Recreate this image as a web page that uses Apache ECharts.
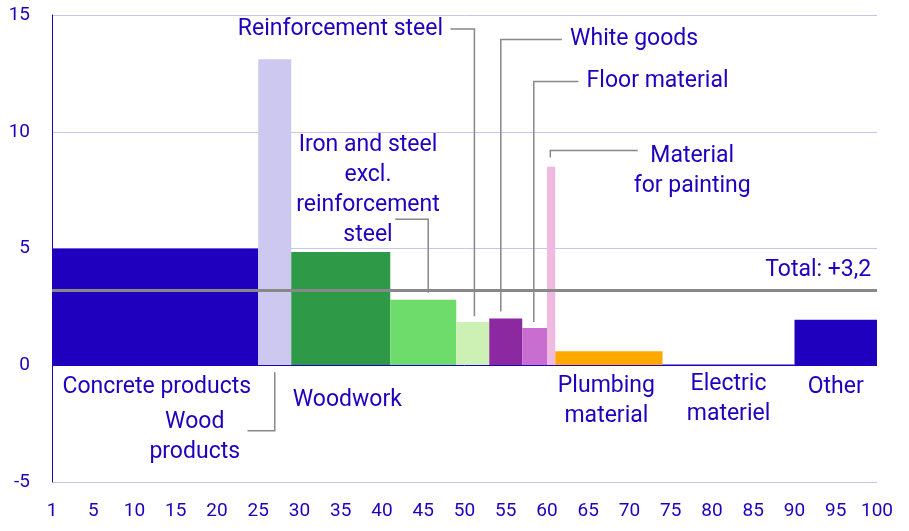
<!DOCTYPE html>
<html><head><meta charset="utf-8">
<script src="https://cdn.jsdelivr.net/npm/echarts@6/dist/echarts.min.js"></script>
<style>html,body{margin:0;background:#fff}#c{width:909px;height:531px}</style>
</head><body><div id="c"></div>
<script>
var categories = ['Concrete products','Wood products','Woodwork','Iron and steel excl. reinforcement steel','Reinforcement steel','White goods','Floor material','Material for painting','Plumbing material','Electric materiel','Other'];
var starts = [0, 25, 29, 41, 49, 53, 57, 60, 61, 74, 90];
var ends = [25, 29, 41, 49, 53, 57, 60, 61, 74, 90, 100];
var values = [5.0, 13.1, 4.85, 2.8, 1.85, 2.0, 1.6, 8.5, 0.6, 0.03, 1.95];
var colors = ['#1e00be','#cdc8f0','#2e9a48','#6ddc6a','#cdf0b4','#8c28a0','#c86ed0','#f0b9e1','#ffa800','#1e00be','#1e00be'];
var total = 3.2;
var ink = '#1e00be';

var chart = echarts.init(document.getElementById('c'));
var data = categories.map(function(c, i){ return [starts[i], ends[i], values[i]]; });
chart.setOption({
	animation: false,
	grid: { left: 52, right: 32, top: 15, bottom: 49 },
	xAxis: {
		type: 'value', min: 0, max: 100, interval: 5,
		axisLine: { show: false }, axisTick: { show: false }, splitLine: { show: false },
		axisLabel: { color: ink, fontSize: 19, fontFamily: 'Roboto', margin: 20,
			formatter: function(v){ return v === 0 ? '1' : v; } }
	},
	yAxis: {
		type: 'value', min: -5, max: 15, interval: 5,
		axisLine: { show: true, lineStyle: { color: ink, width: 1 } },
		axisTick: { show: false },
		splitLine: { lineStyle: { color: '#c8c4ee', width: 1 } },
		axisLabel: { color: ink, fontSize: 19, fontFamily: 'Roboto', margin: 22 }
	},
	series: [{
		type: 'custom',
		data: data,
		renderItem: function(params, api){
			var p0 = api.coord([api.value(0), api.value(2)]);
			var p1 = api.coord([api.value(1), 0]);
			return { type: 'rect',
				shape: { x: p0[0], y: Math.min(p0[1], p1[1]), width: p1[0]-p0[0], height: Math.abs(p1[1]-p0[1]) },
				style: { fill: colors[params.dataIndex] } };
		},
		encode: { x: [0,1], y: 2 },
		z: 2
	}, {
		type: 'line', data: [[0, total],[100, total]], symbol: 'none',
		lineStyle: { color: '#888', width: 3 }, z: 5,
		markLine: {
			symbol: 'none', silent: true,
			data: [{ yAxis: 0 }],
			lineStyle: { color: ink, width: 1, type: 'solid' },
			label: { show: false }
		}
	}]
});

// annotations: text [x, y] in data units, lines as data-unit point lists
var labels = [
	{ t: 'Concrete products', p: [12.7, -0.95], a: 'center' },
	{ t: 'Wood\nproducts', p: [17.3, -3.1], a: 'center' },
	{ t: 'Woodwork', p: [35.8, -1.5], a: 'center' },
	{ t: 'Iron and steel\nexcl.\nreinforcement\nsteel', p: [38.3, 7.5], a: 'center' },
	{ t: 'Reinforcement steel', p: [47.4, 14.4], a: 'right' },
	{ t: 'White goods', p: [62.8, 13.95], a: 'left' },
	{ t: 'Floor material', p: [64.8, 12.15], a: 'left' },
	{ t: 'Material\nfor painting', p: [77.6, 8.3], a: 'center' },
	{ t: 'Plumbing\nmaterial', p: [67.2, -1.55], a: 'center' },
	{ t: 'Electric\nmateriel', p: [82, -1.45], a: 'center' },
	{ t: 'Other', p: [95, -0.95], a: 'center' },
	{ t: 'Total: +3,2', p: [99.3, 4.05], a: 'right' }
];
var leaders = [
	[[48.3, 14.4],[51.2, 14.4],[51.2, 2.1]],
	[[61.8, 13.95],[54.4, 13.95],[54.4, 2.3]],
	[[63.8, 12.15],[58.4, 12.15],[58.4, 1.85]],
	[[71.0, 9.2],[60.4, 9.2],[60.4, 8.9]],
	[[41.6, 6.25],[45.6, 6.25],[45.6, 3.1]],
	[[23.7, -2.8],[27.0, -2.8],[27.0, -0.3]]
];
var g = [];
labels.forEach(function(l){
	var p = chart.convertToPixel({ gridIndex: 0 }, l.p);
	g.push({ type: 'text', x: p[0], y: p[1], z: 10,
		style: { text: l.t, fill: ink, font: '23px Roboto', align: l.a, verticalAlign: 'middle', lineHeight: 30 } });
});
leaders.forEach(function(pts){
	g.push({ type: 'polyline', z: 10,
		shape: { points: pts.map(function(q){ return chart.convertToPixel({ gridIndex: 0 }, q); }) },
		style: { stroke: '#888', lineWidth: 1.5, fill: null } });
});
chart.setOption({ graphic: g });
</script>
</body></html>
